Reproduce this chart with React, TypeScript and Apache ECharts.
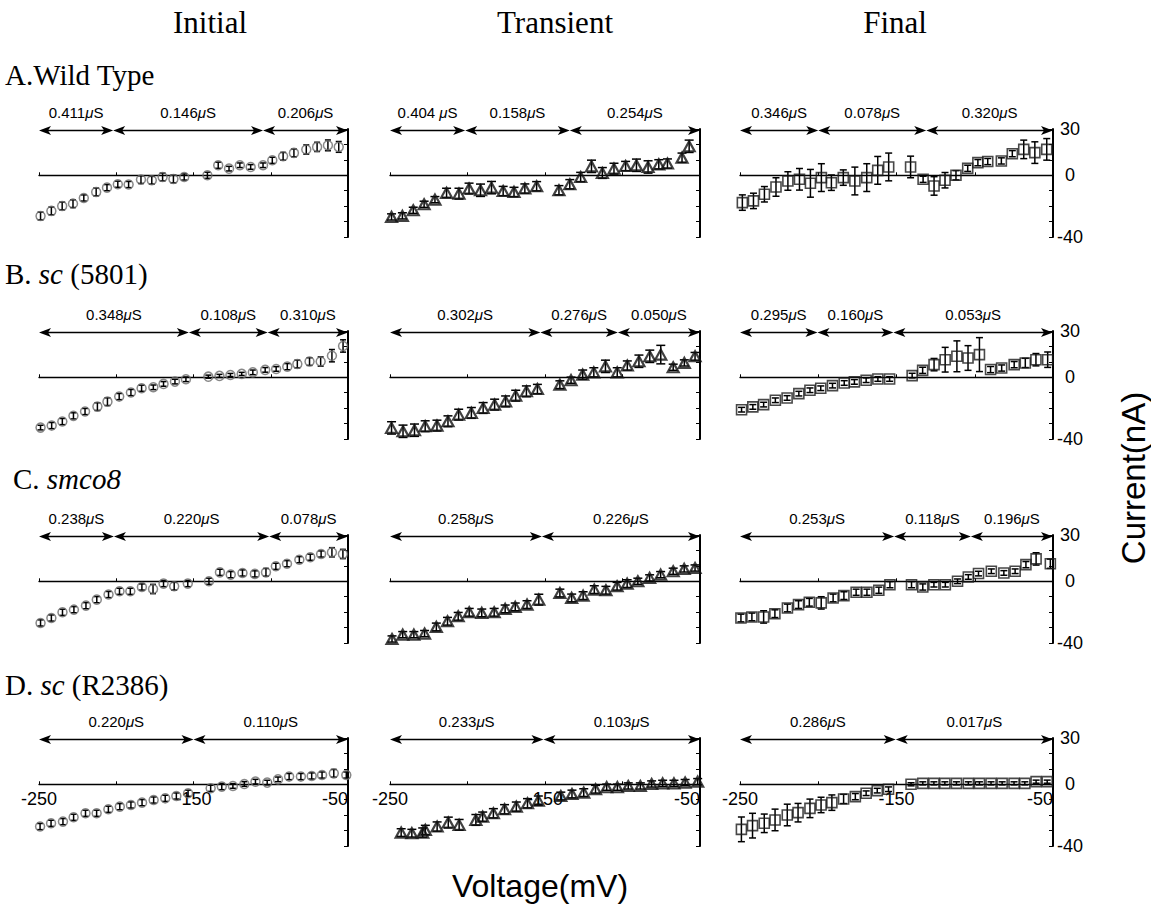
import React, { useEffect, useRef } from "react";
import * as echarts from "echarts";

const FONT_SANS = '"Liberation Sans", Arial, Helvetica, sans-serif';
const FONT_SERIF = '"Liberation Serif", "Times New Roman", serif';

// ---------- titles ----------
const columnTitles = ["Initial", "Transient", "Final"];
const rowTitles = ["A.Wild Type", "B. {i|sc} (5801)", "C. {i|smco8}", "D. {i|sc} (R2386)"];
const xTickLabels = [-250, -150, -50];
const yTickLabels = [30, 0, -40];

// ---------- A. Wild Type ----------
const wtInitV = [-249, -242, -235, -228, -221, -213, -206, -199, -192, -184, -177, -170, -163, -156, -141, -134, -127, -120, -113, -105, -99, -92, -85, -77, -70, -63, -56];
const wtInitI = [-26.4, -23.1, -19.9, -18.4, -14.7, -10.8, -8.0, -5.8, -6.0, -2.8, -3.2, -1.1, -2.4, -1.1, 0, 6.5, 4.3, 6.5, 5.4, 6.5, 9.7, 12.3, 14.5, 16.7, 18.4, 19.4, 18.4];
const wtInitE = [2.5, 2.5, 2.5, 2.5, 2, 2.5, 2, 2, 2, 2.5, 2.5, 2.5, 2.5, 2, 2, 2, 1.5, 1.5, 1.5, 1.5, 2, 2.5, 2.5, 3, 3, 3.5, 3.5];
const wtInitSeg = [-250, -202, -105, -50];
const wtInitG = ["0.411", "0.146", "0.206"];

const wtTranV = [-249, -242, -235, -228, -221, -213.5, -205.5, -199, -191.6, -184.5, -177, -170, -163, -155.4, -141, -134, -127, -120, -113, -105.5, -98, -91, -83.5, -76.6, -71, -61.6, -57];
const wtTranI = [-27, -26.3, -22.7, -18.8, -15.8, -11.4, -11.9, -8.6, -9.7, -8, -10.2, -10.8, -8.6, -7.1, -9.7, -5.8, -1.1, 5.8, 1.5, 4.3, 6, 6.5, 5.4, 7.1, 7.6, 11.4, 18.8];
const wtTranE = [2, 2, 2, 2, 2, 3, 3.5, 3.5, 4, 4, 3, 3, 3, 3, 3, 3, 3, 4, 3.5, 3.5, 3, 4, 4, 3, 3, 3, 4];
const wtTranSeg = [-250, -201.5, -134, -50];
const wtTranG = ["0.404 ", "0.158", "0.254"];

const wtFinV = [-248.5, -241.4, -234.4, -227, -219.4, -212, -205, -198, -191.6, -184, -176.6, -169, -162, -155, -141, -133, -126, -119, -112, -104.5, -98, -91.7, -83, -76, -68.7, -61.6, -54];
const wtFinI = [-17.7, -16.6, -12.3, -7.6, -3.7, -2.6, -5.2, -1.5, -4.8, -1.5, -3.7, -1.5, 3.2, 5.4, 5.4, -2.6, -6.9, -3.2, 0, 4.5, 8.2, 8.9, 9.3, 14, 16.8, 14.7, 16.8];
const wtFinE = [5, 5, 5, 6, 6, 7, 9, 9, 5, 5, 9, 9, 9, 9, 7, 2, 6, 5, 3, 2, 2, 2, 2, 2, 6, 7, 7];
const wtFinSeg = [-250, -200, -131, -50];
const wtFinG = ["0.346", "0.078", "0.320"];

// ---------- B. sc (5801) ----------
const sc58InitV = [-249, -241.8, -234.9, -227.7, -220.2, -212.2, -205.7, -198.1, -190.5, -183.6, -176, -169.4, -162, -154.9, -140.4, -133.2, -126.1, -118.8, -111.6, -103.6, -96.5, -89.3, -82.8, -74.9, -67.7, -60.4, -53.2];
const sc58InitI = [-32.6, -31.3, -28.7, -25, -22.2, -19, -15.8, -12.5, -9.9, -7.1, -6.5, -4.3, -2.8, -1.3, 0.4, 0.9, 1.5, 2.2, 3.2, 4.8, 5.4, 6.9, 8.6, 10.2, 10.2, 14, 20.3];
const sc58InitE = [1.5, 2, 2, 2, 2, 2.5, 2.5, 2, 2, 2, 1.5, 1.5, 1.5, 1.5, 1, 1, 1, 1, 1.5, 1.5, 1.5, 2, 2.5, 2.5, 3, 4, 4];
const sc58InitSeg = [-250, -153, -102, -50];
const sc58InitG = ["0.348", "0.108", "0.310"];

const sc58TranV = [-249, -241.6, -234.2, -227.3, -219.7, -212.6, -205.7, -197.5, -189.9, -182.5, -175.4, -168.9, -162, -154.9, -140.4, -133.2, -125.7, -118.5, -111, -103.4, -96.9, -89.4, -82.4, -75.3, -67.3, -60.1, -53.2];
const sc58TranI = [-32.8, -35, -34.3, -31.7, -31.3, -28.5, -24.2, -23.1, -19.9, -17.7, -15.6, -11.9, -9.1, -7.6, -4.8, -1.9, 1.7, 3.2, 7.1, 3.2, 7.6, 10.4, 13.6, 14.7, 6.5, 9.3, 13.6];
const sc58TranE = [4, 4, 4, 3.5, 3.5, 3.5, 3.5, 3.5, 3.5, 3.5, 3.5, 3.5, 3.5, 3, 2.5, 2, 3, 3, 4, 3, 3, 4, 4, 6, 2, 2, 2.5];
const sc58TranSeg = [-250, -153, -103, -50];
const sc58TranG = ["0.302", "0.276", "0.050"];

const sc58FinV = [-249, -241.8, -234.9, -227.4, -219.9, -212.4, -205.3, -198.4, -190.9, -183.4, -176.9, -169.4, -161.9, -154.4, -140, -133.3, -126, -118.9, -111.4, -104.3, -97, -89.9, -82.8, -74.8, -67.7, -60.9, -53.4];
const sc58FinI = [-21, -19.2, -17.7, -14.9, -13.4, -10.6, -8.4, -7.1, -5.4, -3.7, -3, -1.9, -1.1, -1.1, 1.1, 4.5, 8.2, 11.4, 13.6, 12.5, 14.7, 5, 6, 8.2, 9.3, 11.4, 11.4];
const sc58FinE = [1.5, 1.5, 1.5, 1.5, 1.5, 1.5, 1.5, 1.5, 1.5, 1.5, 1.5, 1.5, 1.5, 1.5, 1.5, 2, 4, 8, 10, 8, 11, 2, 2, 2, 3, 4, 5];
const sc58FinSeg = [-250, -200.5, -152, -50];
const sc58FinG = ["0.295", "0.160", "0.053"];

// ---------- C. smco8 ----------
const smInitV = [-249, -242, -234.8, -227.4, -219.6, -212.6, -205, -197.9, -190.9, -183.4, -176.2, -169.4, -162.5, -153.7, -140, -132.9, -125.9, -118.3, -110.3, -103.1, -96.7, -89.5, -81.5, -74.4, -67.4, -60.4, -53.3];
const smInitI = [-27, -23.8, -20.1, -18.4, -15.8, -11.9, -8.6, -6.5, -6.5, -3.7, -5, -1.5, -3.2, -1.5, 0, 5.8, 4.3, 5.4, 4.8, 5.8, 9.7, 11.4, 14, 15.6, 17.7, 18.8, 17.7];
const smInitE = [2, 2, 2, 2, 2, 2, 2, 2, 2, 2, 3, 2, 2.5, 2, 2, 2, 2, 2, 2, 2.5, 2, 2, 2, 2, 2, 3, 3];
const smInitSeg = [-250, -201.5, -101, -50];
const smInitG = ["0.238", "0.220", "0.078"];

const smTranV = [-248.7, -241.8, -234.6, -227.7, -220.1, -212.9, -206, -198.9, -190.8, -182.8, -175.7, -169.2, -161.6, -154, -140.4, -132.8, -125.4, -118.2, -110.7, -103.5, -97, -90.1, -82.5, -75.4, -67.3, -60.2, -53.2];
const smTranI = [-37.4, -34.6, -34.6, -33.9, -29.6, -25.9, -22.7, -20.1, -20.5, -20.1, -17.9, -16.6, -15.1, -11.9, -7.6, -10.8, -9.3, -5.4, -5.8, -3.2, -1.5, 0, 2.2, 4.3, 6.5, 8, 8.6];
const smTranE = [2, 2, 2, 2, 2.5, 2.5, 2.5, 2.5, 2.5, 2.5, 2.5, 2.5, 2.5, 3.5, 2.5, 2.5, 2.5, 2.5, 2.5, 2.5, 2.5, 2, 2, 2, 2, 2, 2];
const smTranSeg = [-250, -152, -50];
const smTranG = ["0.258", "0.226"];

const smFinV = [-249.4, -242.4, -234.9, -227.7, -219.7, -212.6, -205.7, -198.1, -190.5, -183.6, -175.8, -168.9, -161.3, -154.2, -140.4, -133.2, -126.1, -118.8, -111, -104.1, -97.6, -89.4, -81.4, -74.2, -67.3, -60.8, -51.7];
const smFinI = [-23.8, -23.1, -23.1, -21, -17.3, -15.1, -13.6, -14, -10.8, -9.3, -7.1, -7.1, -5.8, -2.2, -2.2, -3.7, -2.2, -2.2, 0, 2.8, 5, 6.5, 5.4, 6.5, 10.8, 14.5, 11.4];
const smFinE = [2.5, 2.5, 4, 2.5, 2.5, 2.5, 2.5, 4, 2.5, 2.5, 2, 2, 2, 2, 2, 2, 1.5, 1.5, 1.5, 1.5, 1.5, 1.5, 1.5, 1.5, 2, 4, 3];
const smFinSeg = [-250, -151.5, -102.5, -50];
const smFinG = ["0.253", "0.118", "0.196"];

// ---------- D. sc (R2386) ----------
const scRInitV = [-249.3, -242.2, -234.5, -227.6, -219.9, -212.7, -205.1, -197.7, -190.5, -183.3, -175.8, -168.3, -161.1, -153.5, -138.9, -131.7, -124.5, -117.1, -109.9, -102.3, -95.3, -88.1, -80.5, -73.5, -66.8, -59.2, -51.1];
const scRInitI = [-27.4, -25.3, -24.2, -21.4, -18.8, -18.8, -16.2, -14.5, -13.4, -11.9, -10.2, -9.1, -7.6, -5.8, -2.6, -1.5, -1.1, 0.2, 1.7, 1.1, 3.2, 5, 5, 5.4, 6, 7.1, 6];
const scRInitE = [2, 2, 2, 2, 2, 2, 2, 2, 2, 2, 2, 2, 2, 2, 2, 2, 1.5, 1.5, 1.5, 1.5, 1.5, 2, 2, 2, 2, 2.5, 2];
const scRInitSeg = [-250, -150, -50];
const scRInitG = ["0.220", "0.110"];

const scRTranV = [-242.8, -235.9, -228.9, -227.2, -219.6, -212.4, -205.4, -194.6, -190.2, -183.3, -176.1, -168.5, -161.3, -154.3, -139.8, -132.6, -125, -117.4, -110.2, -103.3, -96.3, -88.5, -81.2, -74.1, -66.8, -59.6, -51.5];
const scRTranI = [-31.3, -31.7, -31.3, -29.6, -27.4, -24.8, -26.3, -23.1, -21, -18.8, -16.2, -14.5, -12.3, -10.6, -7.6, -6.3, -5.4, -3.2, -1.9, -1.9, -1.1, -1.1, 0.2, 0.6, 0.6, 1.1, 1.7];
const scRTranE = [2.5, 2.5, 3, 3, 3, 3.5, 3.5, 3.5, 3, 3, 3, 3, 3, 3, 2.5, 2.5, 2.5, 2.5, 2, 2, 2, 2, 2, 2, 2, 2, 2];
const scRTranSeg = [-250, -151, -50];
const scRTranG = ["0.233", "0.103"];

const scRFinV = [-249.1, -242, -234.5, -227.6, -219.8, -212.9, -205.3, -198.2, -191.3, -183.8, -176.3, -169.4, -162.3, -155.1, -140.7, -133.2, -126.1, -119.1, -111.7, -104.1, -97, -89.6, -82.5, -74.9, -68, -60.8, -53.7];
const scRFinI = [-29.2, -26.8, -25.3, -23.1, -19.9, -18.4, -15.6, -13.4, -11.9, -9.5, -8, -5.8, -4.1, -3.2, 0, 0.6, 0.6, 0.6, 0.6, 0.6, 0.6, 0.6, 0.6, 0.6, 0.6, 1.7, 1.7];
const scRFinE = [8, 8, 6, 7, 7, 6, 6, 5, 5, 3, 2, 1.5, 1.5, 1.5, 1, 1, 1, 1, 1, 1, 1, 1, 1, 1, 1, 1, 1];
const scRFinSeg = [-250, -150.5, -50];
const scRFinG = ["0.286", "0.017"];

const panels = [
  { v: wtInitV, i: wtInitI, e: wtInitE, seg: wtInitSeg, g: wtInitG },
  { v: wtTranV, i: wtTranI, e: wtTranE, seg: wtTranSeg, g: wtTranG },
  { v: wtFinV, i: wtFinI, e: wtFinE, seg: wtFinSeg, g: wtFinG },
  { v: sc58InitV, i: sc58InitI, e: sc58InitE, seg: sc58InitSeg, g: sc58InitG },
  { v: sc58TranV, i: sc58TranI, e: sc58TranE, seg: sc58TranSeg, g: sc58TranG },
  { v: sc58FinV, i: sc58FinI, e: sc58FinE, seg: sc58FinSeg, g: sc58FinG },
  { v: smInitV, i: smInitI, e: smInitE, seg: smInitSeg, g: smInitG },
  { v: smTranV, i: smTranI, e: smTranE, seg: smTranSeg, g: smTranG },
  { v: smFinV, i: smFinI, e: smFinE, seg: smFinSeg, g: smFinG },
  { v: scRInitV, i: scRInitI, e: scRInitE, seg: scRInitSeg, g: scRInitG },
  { v: scRTranV, i: scRTranI, e: scRTranE, seg: scRTranSeg, g: scRTranG },
  { v: scRFinV, i: scRFinI, e: scRFinE, seg: scRFinSeg, g: scRFinG },
];

// ---------- layout ----------
const COL_LEFT = [39, 390, 740];
const COL_WIDTH = [309, 310, 313];
const ROW_TOP = [129, 331, 535, 738];
const GRID_H = 108;
const ARROW_Y = 29;
const MARKERS = [
  { symbol: "circle", size: 9, color: "#6a6a6a", width: 1.5, cap: 3 },
  { symbol: "triangle", size: [11, 10], color: "#111", width: 2.2, cap: 4.5 },
  { symbol: "rect", size: 10, color: "#1a1a1a", width: 1.6, cap: 3.5 },
];

function buildOption() {
  const grid: any[] = [];
  const xAxis: any[] = [];
  const yAxis: any[] = [];
  const series: any[] = [];

  panels.forEach((p, idx) => {
    const r = Math.floor(idx / 3);
    const c = idx % 3;
    const mk = MARKERS[c];
    grid.push({ left: COL_LEFT[c], top: ROW_TOP[r], width: COL_WIDTH[c], height: GRID_H, containLabel: false });
    xAxis.push({
      type: "value",
      gridIndex: idx,
      min: -250,
      max: -50,
      interval: 50,
      axisLine: { show: true, onZero: true, lineStyle: { color: "#000", width: 1.3 } },
      axisTick: { show: true, inside: true, length: 3, lineStyle: { color: "#000", width: 1 } },
      axisLabel: {
        show: r === 3,
        color: "#000",
        fontSize: 18,
        fontFamily: FONT_SANS,
        margin: -56,
        alignMaxLabel: "right",
        formatter: (val: number) => (xTickLabels.includes(val) ? String(val) : ""),
      },
      splitLine: { show: false },
    });
    yAxis.push({
      type: "value",
      gridIndex: idx,
      position: "right",
      min: -40,
      max: 30,
      interval: 10,
      axisLine: { show: true, onZero: false, lineStyle: { color: "#000", width: 2 } },
      axisTick: { show: true, inside: true, length: 4, lineStyle: { color: "#000", width: 1 } },
      axisLabel: {
        show: c === 2,
        color: "#000",
        fontSize: 18,
        fontFamily: FONT_SANS,
        margin: 17,
        align: "center",
        formatter: (val: number) => (yTickLabels.includes(val) ? String(val) : ""),
      },
      splitLine: { show: false },
    });

    // error bars
    series.push({
      type: "custom",
      xAxisIndex: idx,
      yAxisIndex: idx,
      silent: true,
      z: 2,
      data: p.v.map((x, k) => [x, p.i[k], p.e[k]]),
      encode: { x: 0, y: 1 },
      renderItem: (params: any, api: any) => {
        const x = api.value(0);
        const y = api.value(1);
        const e = api.value(2);
        const t = api.coord([x, y + e]);
        const b = api.coord([x, y - e]);
        const w = mk.cap;
        const st = { stroke: "#000", lineWidth: 1.5 };
        return {
          type: "group",
          children: [
            { type: "line", shape: { x1: t[0], y1: t[1], x2: b[0], y2: b[1] }, style: st },
            { type: "line", shape: { x1: t[0] - w, y1: t[1], x2: t[0] + w, y2: t[1] }, style: st },
            { type: "line", shape: { x1: b[0] - w, y1: b[1], x2: b[0] + w, y2: b[1] }, style: st },
          ],
        };
      },
    });

    // markers
    series.push({
      type: "scatter",
      xAxisIndex: idx,
      yAxisIndex: idx,
      silent: true,
      z: 3,
      symbol: mk.symbol,
      symbolSize: mk.size,
      itemStyle: { color: "rgba(0,0,0,0)", borderColor: mk.color, borderWidth: mk.width },
      data: p.v.map((x, k) => [x, p.i[k]]),
    });

    // conductance arrows
    const segData: any[] = [];
    for (let k = 0; k < p.g.length; k++) segData.push([p.seg[k], p.seg[k + 1], ARROW_Y]);
    series.push({
      type: "custom",
      xAxisIndex: idx,
      yAxisIndex: idx,
      silent: true,
      clip: false,
      z: 4,
      data: segData,
      encode: { x: [0, 1], y: 2 },
      renderItem: (params: any, api: any) => {
        const a = api.coord([api.value(0), api.value(2)]);
        const b = api.coord([api.value(1), api.value(2)]);
        const y = a[1];
        const L = 12;
        const H = 4.5;
        const N = 9;
        const label = p.g[params.dataIndex];
        return {
          type: "group",
          children: [
            { type: "line", shape: { x1: a[0] + 4, y1: y, x2: b[0] - 4, y2: y }, style: { stroke: "#000", lineWidth: 1.5 } },
            { type: "polygon", shape: { points: [[a[0], y], [a[0] + L, y - H], [a[0] + N, y], [a[0] + L, y + H]] }, style: { fill: "#000" } },
            { type: "polygon", shape: { points: [[b[0], y], [b[0] - L, y - H], [b[0] - N, y], [b[0] - L, y + H]] }, style: { fill: "#000" } },
            {
              type: "text",
              x: (a[0] + b[0]) / 2,
              y: y - 18,
              style: {
                text: label + "{m|μ}S",
                fill: "#000",
                fontSize: 15,
                fontFamily: FONT_SANS,
                align: "center",
                verticalAlign: "middle",
                rich: { m: { fontStyle: "italic", fontSize: 15, fontFamily: FONT_SANS, fill: "#000" } },
              },
            },
          ],
        };
      },
    });
  });

  const graphic: any[] = [];
  const titleX = [210, 555, 895];
  columnTitles.forEach((t, k) => {
    graphic.push({
      type: "text",
      x: titleX[k],
      y: 22,
      style: { text: t, fill: "#000", fontSize: 31, fontFamily: FONT_SERIF, align: "center", verticalAlign: "middle" },
    });
  });
  const rowY = [75, 274, 479, 685];
  const rowX = [5, 5, 13, 5];
  rowTitles.forEach((t, k) => {
    graphic.push({
      type: "text",
      x: rowX[k],
      y: rowY[k],
      style: {
        text: t,
        fill: "#000",
        fontSize: 29,
        fontFamily: FONT_SERIF,
        align: "left",
        verticalAlign: "middle",
        rich: { i: { fontStyle: "italic", fontSize: 29, fontFamily: FONT_SERIF, fill: "#000" } },
      },
    });
  });
  graphic.push({
    type: "text",
    x: 1133,
    y: 478,
    rotation: Math.PI / 2,
    style: { text: "Current(nA)", fill: "#000", fontSize: 33, fontFamily: FONT_SANS, align: "center", verticalAlign: "middle" },
  });
  graphic.push({
    type: "text",
    x: 540,
    y: 886,
    style: { text: "Voltage(mV)", fill: "#000", fontSize: 32, fontFamily: FONT_SANS, align: "center", verticalAlign: "middle" },
  });

  return {
    animation: false,
    backgroundColor: "#fff",
    grid,
    xAxis,
    yAxis,
    series,
    graphic,
  };
}

export default function App() {
  const ref = useRef<HTMLDivElement>(null);
  useEffect(() => {
    document.body.style.margin = "0";
    if (!ref.current) return;
    const chart = echarts.init(ref.current, undefined, { renderer: "svg" });
    chart.setOption(buildOption() as any);
    return () => chart.dispose();
  }, []);
  return <div ref={ref} style={{ width: 1151, height: 909 }} />;
}
